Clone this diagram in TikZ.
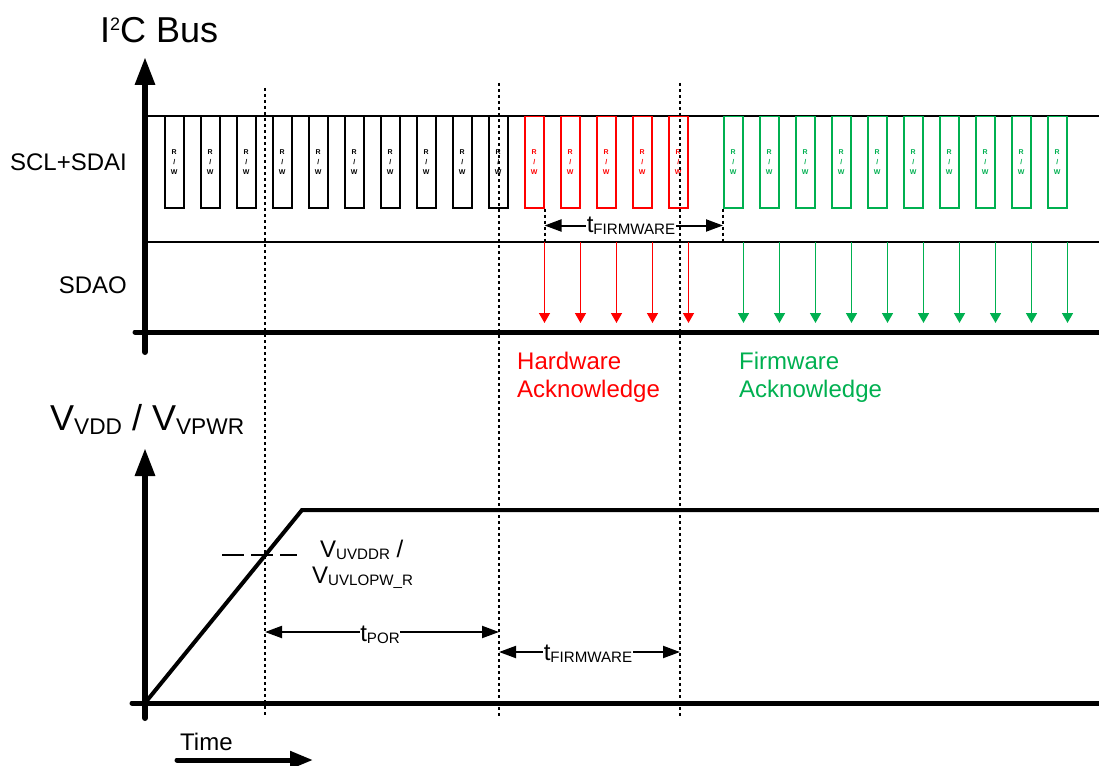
\documentclass[tikz,border=0pt]{standalone}
\usepackage{fontspec}
\setmainfont{Liberation Sans}
\usetikzlibrary{arrows.meta,positioning,calc}
\definecolor{hwack}{HTML}{FF0000}
\definecolor{fwack}{HTML}{00B050}
\newcommand{\lowsub}[1]{\raisebox{-0.22ex}{\scalebox{0.63}{#1}}}
\newcommand{\highsup}[1]{\raisebox{0.36em}{\scalebox{0.5}{#1}}}

\begin{document}
\begin{tikzpicture}[x=1pt,y=-1pt,
  rwbox/.style={draw,line width=1.5pt,minimum width=19pt,minimum height=91pt,inner sep=0pt,anchor=north west,align=center,font=\fontsize{7}{10}\selectfont\bfseries},
  ack/.style={line width=1.5pt,-{Triangle[length=10pt,width=11pt]}},
  axis/.style={line width=6pt,line cap=round,-{Triangle[length=28pt,width=19pt]}},
  base/.style={line width=5pt,line cap=round},
  guide/.style={line width=2pt,dash pattern=on 3pt off 3pt},
  span/.style={line width=2pt,{Triangle[length=17pt,width=12pt]}-{Triangle[length=17pt,width=12pt]}},
  lbl/.style={font=\fontsize{24}{28}\selectfont,inner sep=0pt},
  big/.style={font=\fontsize{36}{40}\selectfont,inner sep=0pt},
  tag/.style={lbl,fill=white,inner sep=0.5pt,anchor=base},
]
  \useasboundingbox (0,0) rectangle (1099,765);

  % I2C bus
  \coordinate (busbot) at (145,352);
  \coordinate (bustop) at (145,57);
  \coordinate (sclline) at (145,116);
  \coordinate (sdaoline) at (145,242);
  \node[big,anchor=base west] (buslabel) at (100,43) {I\highsup{2}C Bus};
  \node[lbl,anchor=base east] (scl) at (127,170) {SCL+SDAI};
  \node[lbl,anchor=base east] (sdao) at (127,293) {SDAO};

  \draw[line width=1.5pt] (sclline) -- (1099,116);
  \draw[line width=1.5pt] (sdaoline) -- (1099,242);

  \foreach \i in {0,...,9}
    \node[rwbox] (k\i) at (164+36*\i,116) {R\\/\\W};
  \foreach \i in {0,...,4} {
    \node[rwbox,hwack] (h\i) at (524+36*\i,116) {R\\/\\W};
    \draw[ack,hwack] (h\i.north east |- sdaoline) -- ++(0,81);
  }
  \foreach \i in {0,...,9} {
    \node[rwbox,fwack] (f\i) at (723+36*\i,116) {R\\/\\W};
    \draw[ack,fwack] (f\i.north east |- sdaoline) -- ++(0,81);
  }

  \draw[base] (135,332) -- (1099,332);
  \draw[axis] (busbot) -- (bustop);

  \node[lbl,hwack,anchor=base west] (hw1) at (517,369) {Hardware};
  \node[lbl,hwack,anchor=base west] (hw2) at (517,397) {Acknowledge};
  \node[lbl,fwack,anchor=base west] (fw1) at (739,369) {Firmware};
  \node[lbl,fwack,anchor=base west] (fw2) at (739,397) {Acknowledge};

  % firmware delay on the bus
  \draw[guide] (h0.south east) -- (h0.south east |- sdaoline);
  \draw[guide] (f0.south west) -- (f0.south west |- sdaoline);
  \draw[span] ($(h0.south east)+(0,17)$) -- ($(f0.south west)+(0,17)$);
  \node[tag] (tfwbus) at (631,232) {t\lowsub{FIRMWARE}};

  % supply ramp
  \coordinate (pwrbot) at (145,718);
  \coordinate (pwrtop) at (145,448);
  \coordinate (ramp0) at (145,703);
  \coordinate (ramp1) at (302,510);
  \node[big,anchor=base west] (pwrlabel) at (50,430) {V\lowsub{VDD} / V\lowsub{VPWR}};

  \draw[base] (132,703) -- (1099,703);
  \draw[axis] (pwrbot) -- (pwrtop);
  \draw[line width=4pt] (ramp0) -- (ramp1) -- (1099,510);
  \draw[line width=1.5pt,dash pattern=on 22pt off 7pt] (222,555) -- (297,555);

  \node[lbl,anchor=base west] (vth1) at (320,557) {V\lowsub{UVDDR} /};
  \node[lbl,anchor=base west] (vth2) at (312,583) {V\lowsub{UVLOPW\_R}};

  % markers
  \coordinate (por0) at (265,88);   \coordinate (por1) at (265,716);
  \coordinate (rdy0) at (499,83);   \coordinate (rdy1) at (499,717);
  \coordinate (fwd0) at (680,83);   \coordinate (fwd1) at (680,717);
  \draw[guide] (por0) -- (por1);
  \draw[guide] (rdy0) -- (rdy1);
  \draw[guide] (fwd0) -- (fwd1);

  \draw[span] ($(por0)+(0,544)$) -- ($(rdy0)+(0,549)$);
  \node[tag] (tpor) at (380,641) {t\lowsub{POR}};
  \draw[span] ($(rdy0)+(0,569)$) -- ($(fwd0)+(0,569)$);
  \node[tag] (tfwpwr) at (588,660) {t\lowsub{FIRMWARE}};

  % time
  \node[lbl,anchor=base west] (time) at (180,750) {Time};
  \coordinate (time0) at (177,760);
  \coordinate (time1) at (313,760);
  \draw[base,-{Triangle[length=23pt,width=17pt]}] (time0) -- (time1);
\end{tikzpicture}
\end{document}
